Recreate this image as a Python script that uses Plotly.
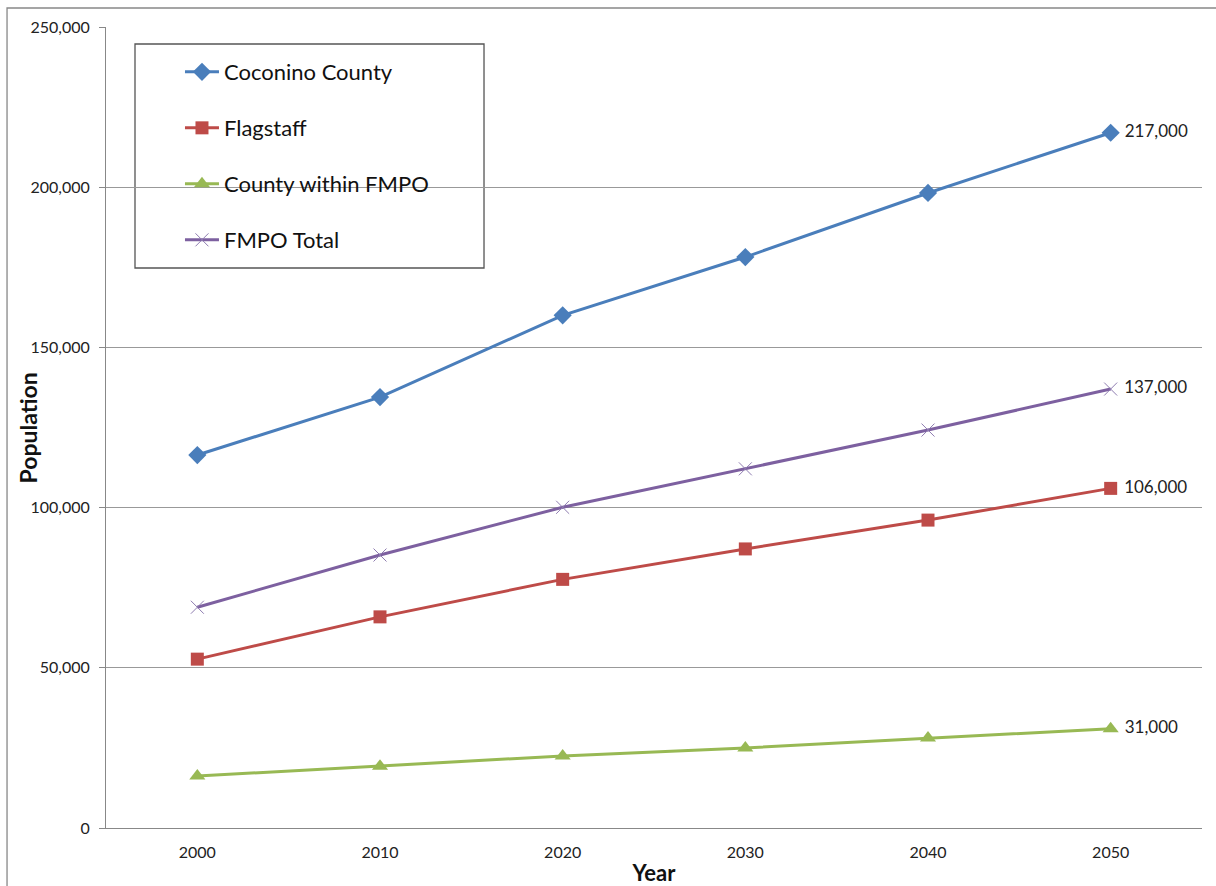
import plotly.graph_objects as go

years = ["2000", "2010", "2020", "2030", "2040", "2050"]
coconino = [116400, 134500, 160000, 178200, 198200, 217000]
flagstaff = [52700, 65900, 77600, 87100, 96100, 106000]
county_fmpo = [16200, 19300, 22500, 25000, 28100, 31000]
fmpo_total = [68900, 85200, 100100, 112100, 124200, 137000]

series = [
    ("Coconino County", coconino, "#4A7EBB", dict(symbol="diamond", size=14)),
    ("Flagstaff", flagstaff, "#BE4B48", dict(symbol="square", size=13)),
    ("County within FMPO", county_fmpo, "#98B954", dict(symbol="triangle-up", size=14)),
    ("FMPO Total", fmpo_total, "#7D60A0", dict(symbol="x-thin", size=13, line=dict(width=1, color="#8E7CB0"))),
]

fig = go.Figure()
for name, vals, color, mk in series:
    labels = [""] * (len(vals) - 1) + [" " + f"{vals[-1]:,}"]
    fig.add_trace(go.Scatter(
        x=years, y=vals, name=name, legendgroup=name,
        mode="lines+markers+text",
        line=dict(color=color, width=3),
        marker=dict(color=color, **mk),
        text=labels, textposition="middle right",
        textfont=dict(family="Lato", size=17, color="#222222"),
        cliponaxis=False,
    ))

fig.update_layout(
    width=1216, height=886,
    margin=dict(l=106, r=14, t=27, b=58),
    paper_bgcolor="white", plot_bgcolor="white",
    font=dict(family="Lato", color="#222222"),
    showlegend=True,
    legend=dict(
        x=0.0675, y=0.970, xanchor="left", yanchor="top",
        bgcolor="rgba(0,0,0,0)", borderwidth=0,
        font=dict(family="Lato", size=22, color="#111111"),
        tracegroupgap=24.4, itemwidth=34,
    ),
    xaxis=dict(
        type="category", range=[-0.5, 5.5], automargin=False,
        showgrid=False, showline=True, linecolor="#888888", linewidth=1,
        ticks="", ticklabelstandoff=10,
        tickfont=dict(family="Lato", size=16, color="#222222"),
        title=dict(text="<b>Year</b>", font=dict(family="Lato", size=22, color="#111111"), standoff=7),
    ),
    yaxis=dict(
        range=[0, 250000], dtick=50000, tickformat=",", automargin=False,
        showgrid=True, gridcolor="#999999", gridwidth=1,
        showline=True, linecolor="#888888", linewidth=1,
        ticks="outside", ticklen=6, tickcolor="#888888",
        ticklabelstandoff=6,
        zeroline=False,
        tickfont=dict(family="Lato", size=16, color="#222222"),
    ),
    annotations=[
        dict(text="<b>Population</b>", xref="paper", yref="paper",
             x=-0.0712, y=0.5, xanchor="center", yanchor="middle",
             textangle=-90, showarrow=False,
             font=dict(family="Lato", size=23, color="#111111")),
    ],
    shapes=[
        dict(type="rect", xref="paper", yref="paper",
             x0=0.02646, x1=0.3449, y0=0.6991, y1=0.9788,
             line=dict(color="#555555", width=1.3), fillcolor="rgba(0,0,0,0)", layer="below"),
        dict(type="rect", xref="paper", yref="paper",
             x0=-0.0903, x1=1.05, y0=-0.12, y1=1.0237,
             line=dict(color="#888888", width=1.3), fillcolor="rgba(0,0,0,0)", layer="below"),
    ],
)

fig.write_html("out.html")
